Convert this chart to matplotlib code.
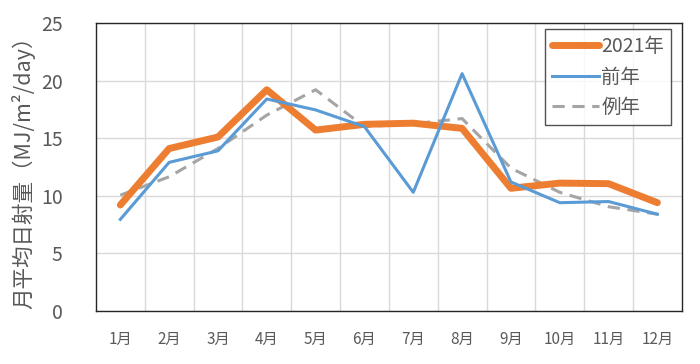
import matplotlib
matplotlib.use('Agg')
import matplotlib.pyplot as plt
import numpy as np

plt.rcParams['font.family'] = ['Noto Sans CJK JP', 'DejaVu Sans']

months = ['1月', '2月', '3月', '4月', '5月', '6月', '7月', '8月', '9月', '10月', '11月', '12月']
y2021 = [9.2, 14.1, 15.1, 19.2, 15.7, 16.2, 16.3, 15.85, 10.65, 11.1, 11.05, 9.4]
prev_year = [7.95, 12.9, 13.9, 18.4, 17.45, 16.0, 10.3, 20.6, 11.2, 9.4, 9.5, 8.4]
normal_year = [10.05, 11.65, 14.1, 17.0, 19.2, 16.0, 16.25, 16.7, 12.4, 10.3, 9.05, 8.4]

txt = '#595959'
x = np.arange(1, len(months) + 1)

fig = plt.figure(figsize=(7, 3.64), dpi=100)
ax = fig.add_axes([0.137, 0.1456, 0.837, 0.7914])

ax.plot(x, y2021, color='#ED7D31', lw=5, solid_capstyle='round', solid_joinstyle='round', label='2021年', zorder=3)
ax.plot(x, prev_year, color='#5B9BD5', lw=2.2, label='前年', zorder=4)
ax.plot(x, normal_year, color='#A5A5A5', lw=2.2, dashes=(4, 2.5), label='例年', zorder=2)

ax.set_xlim(0.5, 12.5)
ax.set_ylim(0, 25)
ax.set_yticks([0, 5, 10, 15, 20, 25])
ax.set_xticks(x)
ax.set_xticklabels(months)
ax.set_xticks(np.arange(1.5, 12.5, 1), minor=True)
ax.grid(axis='y', color='#D9D9D9', lw=1)
ax.grid(axis='x', which='minor', color='#D9D9D9', lw=1)
ax.set_axisbelow(True)
ax.tick_params(which='both', length=0)
ax.tick_params(axis='y', labelsize=14, colors=txt, pad=24)
ax.tick_params(axis='x', labelsize=11, colors=txt, pad=14)
for s in ax.spines.values():
    s.set_color('#262626')
    s.set_linewidth(1)

ax.set_ylabel('月平均日射量（MJ/m²/day）', fontsize=15.5, color=txt, labelpad=4)

leg = ax.legend(loc='upper right', fontsize=14, frameon=True, fancybox=False,
                handlelength=2.4, handletextpad=0.15, borderpad=0.35, labelspacing=0.5,
                borderaxespad=0, bbox_to_anchor=(0.982, 0.979))
leg.get_frame().set_edgecolor('#262626')
leg.get_frame().set_linewidth(1)
for t in leg.get_texts():
    t.set_color(txt)

fig.savefig('out.png', dpi=100)
